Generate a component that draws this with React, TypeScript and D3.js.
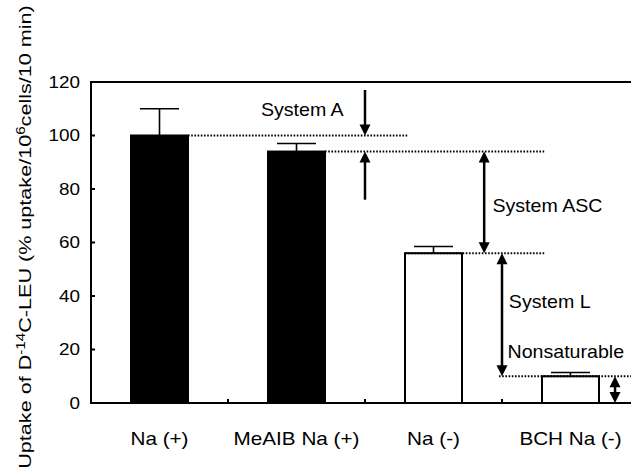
import React from 'react';
import * as d3 from 'd3';

const categories = ['Na (+)', 'MeAIB Na (+)', 'Na (-)', 'BCH Na (-)'];
const uptake = [100, 94, 56, 10];
const uptakeSd = [10, 3, 2.5, 1.4];
const barFills = ['#000', '#000', '#fff', '#fff'];
const yTicks = [0, 20, 40, 60, 80, 100, 120];

// dotted reference levels; x in category-index units
const levelValues = [100, 94, 56, 10];
const levelFrom = [0.708, 1.708, 2.292, 2.978];
const levelTo = [2.31, 3.31, 3.31, 4];

// arrows: x in category-index units, y in data units
const arrowX = [2.0, 2.0, 2.87, 3.0, 3.825];
const arrowFrom = [117, 76, 94, 56, 0];
const arrowTo = [100, 94, 56, 10, 10];
const arrowBoth = [false, false, true, true, true];

const noteText = ['System A', 'System ASC', 'System L', 'Nonsaturable'];
const noteX = [1.24, 2.93, 3.05, 3.04];
const noteY = [107.4, 71.3, 35.4, 16.7];

const width = 631;
const height = 475;
const font = '"Liberation Sans", Arial, Helvetica, sans-serif';

const App = () => {
  const left = 91;
  const top = 82;
  const bottom = 403;
  const right = 639;

  const x = d3.scaleBand().domain(categories).range([left, right]).paddingInner(0.584).paddingOuter(0.292);
  const xi = d3.scaleLinear().domain([0, categories.length]).range([left, right]);
  const y = d3.scaleLinear().domain([0, 120]).range([bottom, top]);

  const head = (px, tip, dir) => {
    // dir = 1 points down, -1 points up
    const h = 11;
    const w = 5.5;
    return `M${px},${tip} L${px - w},${tip - dir * h} L${px + w},${tip - dir * h} Z`;
  };

  return (
    <svg width={width} height={height} style={{ position: 'absolute', left: 0, top: 0, background: '#fff' }}
      fontFamily={font}>
      {/* bars */}
      {categories.map((c, i) => (
        <rect key={c} x={x(c)} y={y(uptake[i])} width={x.bandwidth()} height={y(0) - y(uptake[i])}
          fill={barFills[i]} stroke="#000" strokeWidth={2} />
      ))}
      {/* error bars */}
      {categories.map((c, i) => {
        const cx = x(c) + x.bandwidth() / 2;
        return (
          <g key={c} stroke="#000" strokeWidth={1.6}>
            <line x1={cx} x2={cx} y1={y(uptake[i])} y2={y(uptake[i] + uptakeSd[i])} />
            <line x1={cx - 19.5} x2={cx + 19.5} y1={y(uptake[i] + uptakeSd[i])} y2={y(uptake[i] + uptakeSd[i])} />
          </g>
        );
      })}
      {/* dotted levels */}
      {levelValues.map((v, i) => (
        <line key={i} x1={xi(levelFrom[i])} x2={xi(levelTo[i])} y1={y(v)} y2={y(v)}
          stroke="#000" strokeWidth={2} strokeDasharray="1.6,1.6" />
      ))}
      {/* frame */}
      <g stroke="#000" strokeWidth={2} fill="none">
        <line x1={left} x2={left} y1={top - 1} y2={bottom + 1} />
        <line x1={left - 1} x2={width} y1={top} y2={top} />
        <line x1={left - 1} x2={width} y1={bottom} y2={bottom} />
        {yTicks.map(t => (
          <line key={t} x1={left} x2={left + 4} y1={y(t)} y2={y(t)} />
        ))}
        {d3.range(1, categories.length).map(k => (
          <line key={k} x1={xi(k)} x2={xi(k)} y1={bottom} y2={bottom - 4} />
        ))}
      </g>
      {/* arrows */}
      {arrowX.map((ax, i) => {
        const px = xi(ax);
        const y1 = y(arrowFrom[i]);
        const y2 = y(arrowTo[i]);
        const dir = y2 > y1 ? 1 : -1;
        return (
          <g key={i}>
            <line x1={px} x2={px} y1={arrowBoth[i] ? y1 + dir * 8 : y1} y2={y2 - dir * 8}
              stroke="#000" strokeWidth={2.5} />
            <path d={head(px, y2, dir)} fill="#000" />
            {arrowBoth[i] && <path d={head(px, y1, -dir)} fill="#000" />}
          </g>
        );
      })}
      {/* notes */}
      {noteText.map((t, i) => (
        <text key={t} transform={`translate(${xi(noteX[i])},${y(noteY[i])}) scale(1.09,1)`}
          fontSize={18} fill="#000">{t}</text>
      ))}
      {/* y tick labels */}
      {yTicks.map(t => (
        <text key={t} transform={`translate(80,${y(t)}) scale(1.18,1)`} textAnchor="end" dy="0.36em"
          fontSize={16} fill="#000">{t}</text>
      ))}
      {/* category labels */}
      {categories.map(c => (
        <text key={c} transform={`translate(${x(c) + x.bandwidth() / 2},445) scale(1.15,1)`} textAnchor="middle"
          fontSize={18} fill="#000">{c}</text>
      ))}
      {/* y axis title */}
      <text transform={`translate(31,237) rotate(-90) scale(1.27,1)`} textAnchor="middle" fontSize={17} fill="#000">
        Uptake of D<tspan dy="-6" fontSize={12}>-14</tspan><tspan dy="6">C-LEU (% uptake/10</tspan>
        <tspan dy="-6" fontSize={12}>6</tspan><tspan dy="6">cells/10 min)</tspan>
      </text>
    </svg>
  );
};

export default App;
